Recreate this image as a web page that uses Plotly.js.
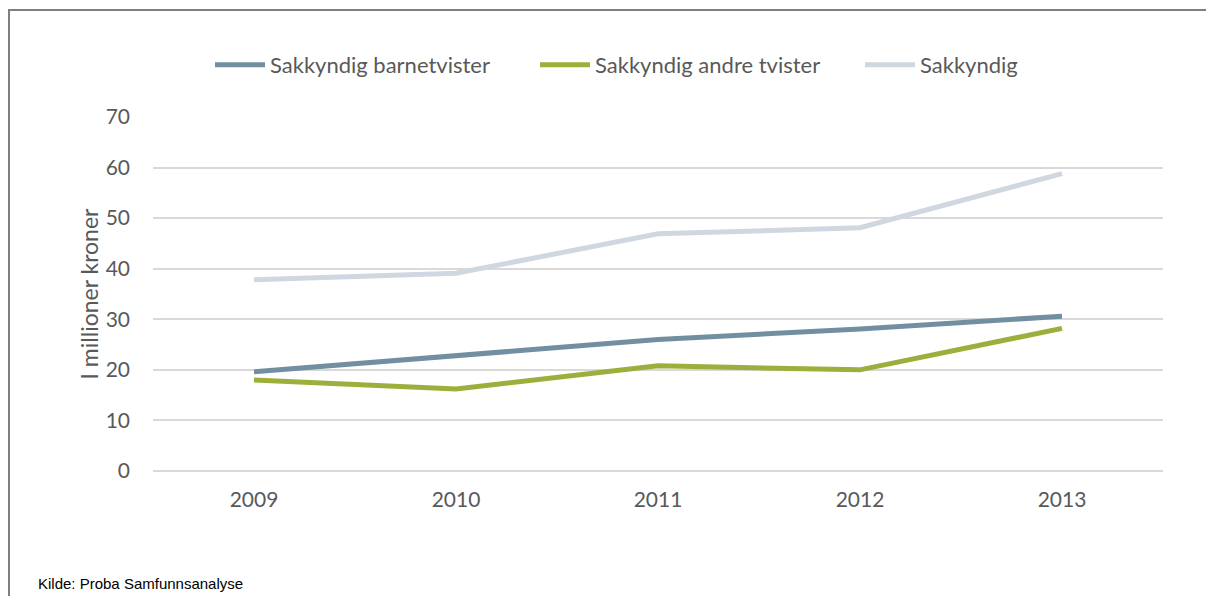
<!DOCTYPE html>
<html>
<head>
<meta charset="utf-8">
<script src="https://cdn.plot.ly/plotly-3.0.1.min.js"></script>
<style>
  html, body { margin: 0; padding: 0; background: #fff; }
  #wrap { position: relative; width: 1206px; height: 596px; }
  #chart { position: absolute; left: 0; top: 0; width: 1206px; height: 596px; }
  #frame { position: absolute; left: 8px; top: 9px; width: 1200px; height: 600px;
           border-top: 2px solid #7f7f7f; border-left: 2px solid #7f7f7f; pointer-events: none; }
</style>
</head>
<body>
<div id="wrap">
  <div id="chart"></div>
  <div id="frame"></div>
</div>
<script>
const years = ['2009', '2010', '2011', '2012', '2013'];
const barnetvister = [19.6, 22.9, 26.0, 28.1, 30.6];
const andreTvister = [18.0, 16.2, 20.8, 20.0, 28.2];
const sakkyndig = [37.8, 39.1, 46.9, 48.1, 58.8];
const seriesNames = ['Sakkyndig barnetvister', 'Sakkyndig andre tvister', 'Sakkyndig'];
const seriesColors = ['#728fa2', '#9bb03c', '#cfd8e0'];
const yTicks = [0, 10, 20, 30, 40, 50, 60, 70];
const yTitle = 'I millioner kroner';
const sourceText = 'Kilde: Proba Samfunnsanalyse';

const seriesValues = [barnetvister, andreTvister, sakkyndig];
const traces = seriesValues.map((vals, i) => ({
  type: 'scatter',
  mode: 'lines',
  x: years,
  y: vals,
  name: seriesNames[i],
  line: { color: seriesColors[i], width: 5 },
  hoverinfo: 'x+y+name'
}));

const font = 'Lato, Calibri, sans-serif';

const layout = {
  width: 1206,
  height: 596,
  margin: { l: 153, r: 43, t: 117, b: 125 },
  paper_bgcolor: '#ffffff',
  plot_bgcolor: '#ffffff',
  showlegend: true,
  legend: {
    orientation: 'h',
    xref: 'container',
    yref: 'container',
    x: 210 / 1206,
    xanchor: 'left',
    y: 1 - 65 / 596,
    yanchor: 'middle',
    font: { family: font, size: 22, color: '#595959' },
    itemwidth: 50,
    entrywidth: 260,
    tracegroupgap: 0,
    traceorder: 'normal'
  },
  xaxis: {
    type: 'category',
    range: [-0.5, 4.5],
    showgrid: false,
    zeroline: false,
    showline: false,
    ticks: '',
    ticklabelstandoff: 14,
    tickfont: { family: font, size: 21, color: '#595959' }
  },
  yaxis: {
    range: [0, 70],
    tickvals: yTicks,
    showgrid: true,
    gridcolor: '#d9d9d9',
    gridwidth: 2,
    zeroline: true,
    zerolinecolor: '#d9d9d9',
    zerolinewidth: 2,
    showline: false,
    ticks: '',
    ticklabelstandoff: 22,
    tickfont: { family: font, size: 21, color: '#595959' },
    title: { text: yTitle, standoff: 0, font: { family: font, size: 23, color: '#595959' } },
    automargin: false
  },
  annotations: [{
    text: sourceText,
    xref: 'paper', yref: 'paper',
    x: -0.116, y: -0.318,
    xanchor: 'left', yanchor: 'middle',
    showarrow: false,
    font: { family: '"Liberation Sans Narrow", "Arial Narrow", sans-serif', size: 15, color: '#000000' }
  }]
};

Plotly.newPlot('chart', traces, layout, { displayModeBar: false, staticPlot: false });
</script>
</body>
</html>
